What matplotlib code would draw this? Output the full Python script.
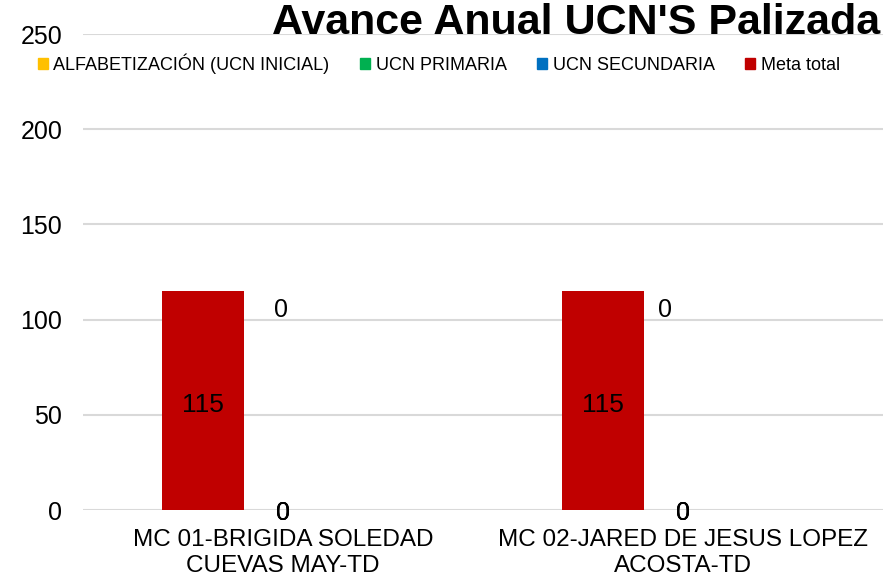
import numpy as np
import matplotlib.pyplot as plt
from matplotlib.patches import Patch

plt.rcParams['font.family'] = ['Liberation Sans', 'DejaVu Sans']

# Data
categorias = ['MC 01-BRIGIDA SOLEDAD\nCUEVAS MAY-TD', 'MC 02-JARED DE JESUS LOPEZ\nACOSTA-TD']
alfabetizacion = [0, 0]
primaria = [0, 0]
secundaria = [0, 0]
meta_total = [115, 115]
avance_total = [0, 0]

series = ['ALFABETIZACIÓN (UCN INICIAL)', 'UCN PRIMARIA', 'UCN SECUNDARIA', 'Meta total']
colores = ['#FFC000', '#00B050', '#0070C0', '#C00000']

fig = plt.figure(figsize=(8.83, 5.81), dpi=100)
ax = fig.add_axes([83 / 883, 71 / 581, 800 / 883, 476 / 581])

x = np.arange(len(categorias))

# meta total bar, shifted left of the category center
ax.bar(x - 0.2, meta_total, width=0.205, color=colores[3], zorder=3)
for xi, v in zip(x, meta_total):
    ax.text(xi - 0.2, v / 2 - 2.5, str(v), ha='center', va='center', fontsize=19, zorder=4)

# stacked progress bars (all zero)
base = np.zeros(len(categorias))
for vals, c in zip([alfabetizacion, primaria, secundaria], colores[:3]):
    ax.bar(x, vals, width=0.205, bottom=base, color=c, zorder=3)
    for xi, b, v in zip(x, base, vals):
        ax.text(xi, b + v / 2 - 1.5, str(v), ha='center', va='center', fontsize=18, zorder=4)
    base = base + np.array(vals)

# total label above the gridline
for xi, v, dx in zip(x, avance_total, [-0.005, -0.045]):
    ax.text(xi + dx, 105, str(v), ha='center', va='center', fontsize=18, zorder=4)

ax.set_xlim(-0.5, 1.5)
ax.set_ylim(0, 250)
ax.set_yticks([0, 50, 100, 150, 200, 250])
ax.tick_params(axis='y', labelsize=18, length=0, pad=15)
ax.set_xticks(x)
ax.set_xticklabels(categorias, fontsize=17.5, linespacing=1.2)
ax.tick_params(axis='x', length=0, pad=14)
ax.grid(axis='y', color='#d9d9d9', linewidth=1.5, zorder=0)
for s in ax.spines.values():
    s.set_visible(False)

fig.text(0.997, 0.96, "Avance Anual UCN'S Palizada", ha='right', va='center',
         fontsize=31, fontweight='bold')

handles = [Patch(color=c) for c in colores]
fig.legend(handles, series, loc='center', bbox_to_anchor=(0.497, 0.89), ncol=4,
           frameon=False, fontsize=13, handlelength=0.55, handleheight=0.55,
           handletextpad=0.3, columnspacing=1.7)

fig.savefig('out.png', dpi=100)
